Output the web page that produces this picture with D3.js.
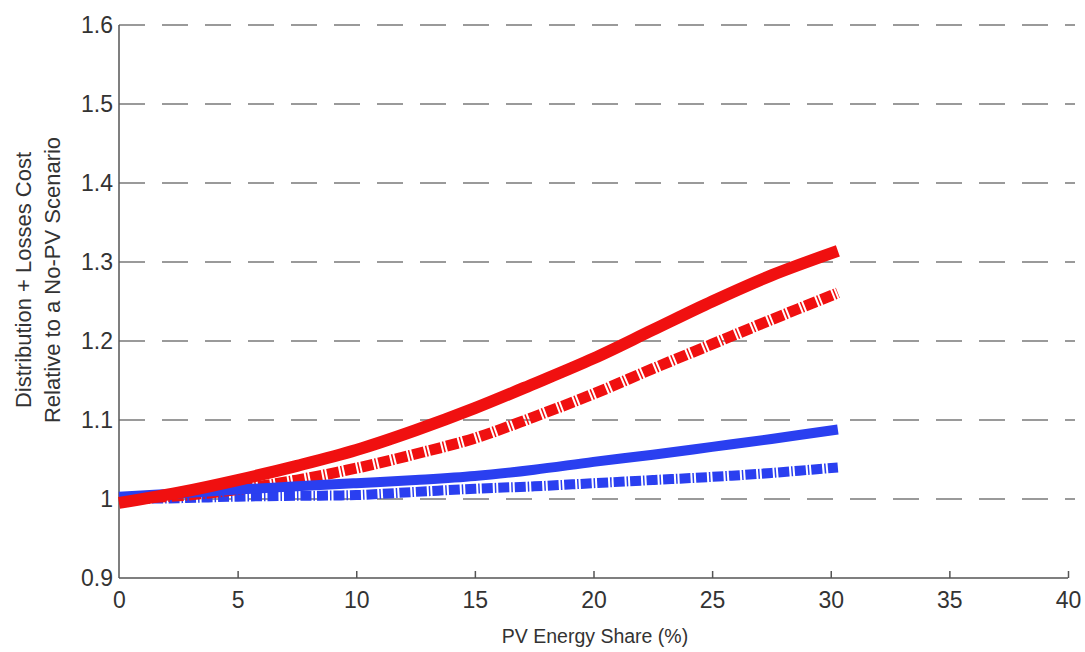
<!DOCTYPE html>
<html><head><meta charset="utf-8">
<script src="https://cdn.jsdelivr.net/npm/d3@7"></script>
<style>body{margin:0;background:#fff;} text{font-family:"Liberation Sans",Arial,sans-serif;fill:#333;}</style>
</head><body><svg id="c" width="1085" height="652"></svg>
<script>
const xVals = [0, 2.5, 5, 7.5, 10, 12.5, 15, 17.5, 20, 22.5, 25, 27.5, 30.3];
const redSolid  = [0.995, 1.008, 1.024, 1.042, 1.062, 1.087, 1.115, 1.146, 1.178, 1.214, 1.250, 1.283, 1.314];
const redDash   = [1.000, 1.004, 1.012, 1.024, 1.039, 1.057, 1.077, 1.104, 1.133, 1.165, 1.196, 1.227, 1.261];
const blueSolid = [1.003, 1.007, 1.012, 1.016, 1.020, 1.024, 1.029, 1.037, 1.047, 1.056, 1.066, 1.076, 1.088];
const blueDash  = [1.000, 1.001, 1.003, 1.004, 1.005, 1.009, 1.013, 1.016, 1.020, 1.024, 1.028, 1.033, 1.040];
const xTicks = [0,5,10,15,20,25,30,35,40];
const yTicks = [0.9,1,1.1,1.2,1.3,1.4,1.5,1.6];

const svg = d3.select("#c");
const x = d3.scaleLinear().domain([0,40]).range([119,1068]);
const y = d3.scaleLinear().domain([0.9,1.6]).range([578,25]);

// grid
svg.append("g").selectAll("line").data(yTicks.filter(d=>d>0.9)).join("line")
  .attr("x1",x(0)).attr("x2",1075).attr("y1",d=>y(d)).attr("y2",d=>y(d))
  .attr("stroke","#9a9a9a").attr("stroke-width",2).attr("stroke-dasharray","26,17");

// axes
const xa = svg.append("g").attr("transform",`translate(0,${y(0.9)})`)
  .call(d3.axisBottom(x).tickValues(xTicks).tickSize(-7).tickPadding(14).tickFormat(d3.format("d")));
const ya = svg.append("g").attr("transform",`translate(${x(0)},0)`)
  .call(d3.axisLeft(y).tickValues(yTicks).tickSize(0).tickPadding(6).tickFormat(d=>d3.format("")(d)));
[xa,ya].forEach(a=>{
  a.attr("font-size",23).attr("font-family","Liberation Sans, Arial, sans-serif");
  a.select(".domain").attr("stroke","#555").attr("stroke-width",1.5);
  a.selectAll(".tick line").attr("stroke","#555").attr("stroke-width",1.5);
  a.selectAll("text").attr("fill","#333");
});
ya.select(".domain").attr("d",`M0,${y(1.6)}V${y(0.9)}`);
xa.select(".domain").attr("d",`M${x(0)},0H${x(40)}`);
xa.selectAll(".tick").filter(d=>d===0).select("line").remove();

const line = vals => d3.line().curve(d3.curveCatmullRom).x((d,i)=>x(xVals[i])).y(d=>y(d))(vals);
const series = [
  {v:blueDash, c:"#2a3ff0", w:10, dash:"11,2,1.5,2"},
  {v:redDash, c:"#f01010", w:11, dash:"12,2,1.5,2"},
  {v:blueSolid, c:"#2a3ff0", w:10, dash:null},
  {v:redSolid, c:"#f01010", w:12, dash:null}
];
series.forEach(s=>{
  svg.append("path").attr("d",line(s.v)).attr("fill","none").attr("stroke",s.c)
    .attr("stroke-width",s.w).attr("stroke-dasharray",s.dash);
});

svg.append("text").attr("x",595).attr("y",643).attr("text-anchor","middle").attr("font-size",19.5).text("PV Energy Share (%)");
const yl = svg.append("text").attr("transform","translate(31,280) rotate(-90)").attr("text-anchor","middle").attr("font-size",22);
yl.append("tspan").attr("x",0).attr("dy",0).text("Distribution + Losses Cost");
yl.append("tspan").attr("x",0).attr("dy",29).text("Relative to a No-PV Scenario");
</script></body></html>
